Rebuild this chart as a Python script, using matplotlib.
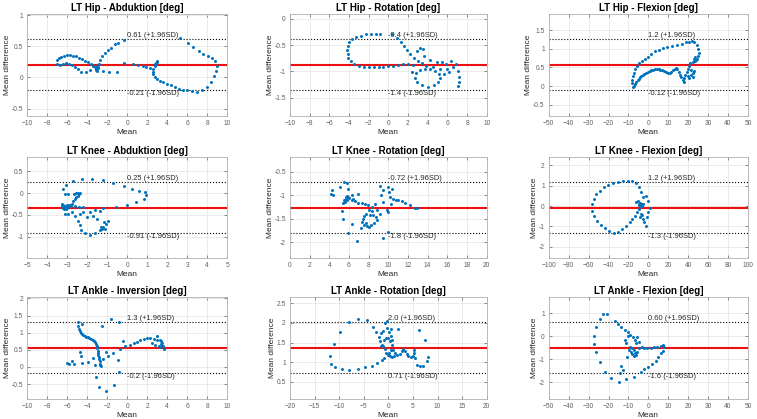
import matplotlib
matplotlib.use("Agg")
import matplotlib.pyplot as plt
import numpy as np

plt.rcParams['font.family'] = ['Liberation Sans', 'DejaVu Sans']

# ---- data (Bland-Altman, 9 joints) ----
titles = ["LT Hip - Abduktion [deg]", "LT Hip - Rotation [deg]", "LT Hip - Flexion [deg]",
          "LT Knee - Abduktion [deg]", "LT Knee - Rotation [deg]", "LT Knee - Flexion [deg]",
          "LT Ankle - Inversion [deg]", "LT Ankle - Rotation [deg]", "LT Ankle - Flexion [deg]"]

mean_diff = [0.20, -0.88, 0.565, -0.33, -1.26, -0.07, 0.56, 1.365, -0.50]
loa_upper = [0.61, -0.395, 1.25, 0.25, -0.72, 1.17, 1.30, 2.015, 0.605]
loa_lower = [-0.21, -1.365, -0.12, -0.91, -1.80, -1.31, -0.19, 0.715, -1.61]
upper_labels = ["0.61 (+1.96SD)", "-0.4 (+1.96SD)", "1.2 (+1.96SD)",
                "0.25 (+1.96SD)", "-0.72 (+1.96SD)", "1.2 (+1.96SD)",
                "1.3 (+1.96SD)", "2.0 (+1.96SD)", "0.60 (+1.96SD)"]
lower_labels = ["-0.21 (-1.96SD)", "-1.4 (-1.96SD)", "-0.12 (-1.96SD)",
                "-0.91 (-1.96SD)", "-1.8 (-1.96SD)", "-1.3 (-1.96SD)",
                "-0.2 (-1.96SD)", "0.71 (-1.96SD)", "-1.6 (-1.96SD)"]

x_limits = [(-10, 10), (-10, 10), (-50, 50), (-5, 5), (0, 20), (-100, 100),
            (-10, 10), (-20, 20), (-50, 50)]
x_steps = [2, 2, 10, 1, 2, 20, 2, 5, 10]
y_steps = [0.5, 0.5, 0.5, 0.5, 0.5, 1, 0.5, 0.5, 1]

hip_abd_x = [-7.0, -6.85, -6.6, -6.3, -6.0, -5.7, -5.4, -5.1, -4.8, -4.5, -4.2, -3.9, -3.6, -3.4,
             -3.2, -3.1, -3.0, -2.95, -3.05, -2.9, -3.1, -3.0,
             -7.05, -6.7, -6.4, -6.1, -5.8, -5.5, -5.2, -4.95, -4.6, -4.1, -3.7,
             -2.85, -2.7, -2.5, -2.2, -1.9, -1.6, -1.2, -0.9, -0.3,
             -2.4, -1.85, -1.05, -0.3, 0.6, 1.1, 1.55, 1.9, 2.25,
             2.75, 2.85, 2.95, 3.0, 2.9, 2.8,
             2.6, 2.55, 2.62, 2.75, 3.0, 3.3, 3.6, 4.0, 4.4, 4.8, 5.2, 5.6, 6.0, 6.5, 7.0, 7.5,
             8.0, 8.35, 8.65, 8.9, 9.0, 8.8, 8.45, 8.05, 7.6, 7.15, 6.6, 6.1, 5.3]
hip_abd_y = [0.28, 0.31, 0.33, 0.35, 0.36, 0.36, 0.35, 0.34, 0.32, 0.30, 0.27, 0.25, 0.22, 0.19,
             0.17, 0.14, 0.13, 0.15, 0.18, 0.17, 0.12, 0.11,
             0.21, 0.20, 0.22, 0.23, 0.22, 0.20, 0.17, 0.13, 0.09, 0.09, 0.12,
             0.22, 0.28, 0.34, 0.40, 0.44, 0.48, 0.53, 0.55, 0.60,
             0.10, 0.08, 0.09, 0.23, 0.21, 0.20, 0.18, 0.16, 0.15,
             0.21, 0.23, 0.25, 0.26, 0.22, 0.19,
             0.14, 0.09, 0.05, 0.01, -0.03, -0.05, -0.08, -0.10, -0.12, -0.15, -0.18, -0.20, -0.21,
             -0.22, -0.23, -0.21,
             -0.15, -0.07, 0.02, 0.10, 0.18, 0.27, 0.32, 0.35, 0.38, 0.43, 0.49, 0.56, 0.63]

hip_rot_x = [-0.8, -1.3, -1.8, -2.3, -2.8, -3.3, -3.7, -4.0, -4.15, -4.2, -4.15, -4.05, -3.8, -3.45,
             -3.0, -2.5, -2.0, -1.5, -1.0, -0.5, 0.0, 0.5, 1.0, 1.5, 2.0,
             0.4, 0.9, 1.3, 1.6, 1.9, 2.2, 2.6, 3.0, 3.4, 3.8, 4.2,
             4.7, 5.1, 5.2, 5.0, 4.6, 4.0, 3.4, 2.9, 2.7, 2.8, 3.2, 3.7,
             3.2, 3.5, 2.9, 3.6, 4.2, 4.9, 5.5, 5.9, 6.4, 6.55, 6.2, 5.7, 6.9, 7.05, 7.15, 7.17, 7.1,
             2.4, 2.5, 4.5, 5.3, 6.0]
hip_rot_y = [-0.30, -0.29, -0.29, -0.30, -0.32, -0.35, -0.39, -0.45, -0.52, -0.60, -0.68, -0.75, -0.81,
             -0.86, -0.89, -0.91, -0.92, -0.92, -0.92, -0.91, -0.90, -0.89, -0.88, -0.87, -0.87,
             -0.30, -0.36, -0.44, -0.52, -0.60, -0.68, -0.74, -0.80, -0.85, -0.90, -0.95,
             -0.99, -1.06, -1.13, -1.20, -1.26, -1.29, -1.27, -1.21, -1.12, -1.04, -0.98, -0.95,
             -0.55, -0.58, -0.62, -0.70, -0.79, -0.83, -0.82, -0.87, -0.80, -0.92, -1.02, -1.05, -0.86,
             -0.99, -1.10, -1.20, -1.28,
             -1.02, -0.88, -0.92, -0.95, -0.95]

hip_flex_x = [-7.8, -7.3, -6.6, -6.0, -5.4, -4.8, -4.2, -3.5, -2.8, -2.0, -1.2, -0.3, 0.6, 1.5, 2.4,
              3.3, 4.2, 5.1, 6.0, 7.0, 8.0, 9.0, 10.0, 10.8, 11.6, 12.4, 13.2, 14.0, 14.6, 15.2, 15.8,
              16.5, 17.2, 17.9, 18.6, 19.2, 19.8, 20.4, 21.0,
              -8.1, -8.1, -7.8, -7.3, -6.5, -5.5, -4.5, -3.4, -1.9, -0.3, 1.4, 3.1, 5.2, 7.3, 9.6,
              12.0, 14.5, 16.8, 18.8, 20.4, 21.8, 23.0, 24.2, 25.0, 25.3, 25.0, 24.4, 23.6, 23.0,
              23.4, 24.0, 22.6,
              20.5, 21.2, 22.3, 23.0, 22.4, 21.6, 18.0, 20.0]
hip_flex_y = [-0.03, 0.01, 0.06, 0.10, 0.15, 0.20, 0.24, 0.27, 0.30, 0.33, 0.36, 0.39, 0.41, 0.43, 0.44,
              0.45, 0.45, 0.45, 0.44, 0.42, 0.40, 0.38, 0.36, 0.36, 0.38, 0.42, 0.47, 0.49, 0.46, 0.38,
              0.30, 0.23, 0.17, 0.21, 0.29, 0.38, 0.47, 0.55, 0.63,
              0.07, 0.16, 0.26, 0.36, 0.46, 0.55, 0.61, 0.66, 0.72, 0.79, 0.86, 0.93, 0.98, 1.02, 1.05,
              1.08, 1.11, 1.14, 1.17, 1.19, 1.20, 1.17, 1.10, 1.00, 0.90, 0.80, 0.72, 0.66, 0.72,
              0.78, 0.70, 0.64,
              0.22, 0.30, 0.35, 0.40, 0.25, 0.43, 0.12, 0.28]

knee_abd_x = [-3.25, -3.2, -3.15, -3.1, -3.05, -3.0, -2.95, -3.1, -3.2, -3.0, -2.9, -3.15, -3.05, -3.25,
              -2.85, -2.78, -2.7, -2.62, -2.54, -2.46, -2.4, -2.38, -2.45, -2.55, -2.65, -2.8, -2.6,
              -2.4, -2.2,
              -3.2, -3.1, -2.95, -3.05, -2.7, -2.27, -1.77, -1.2, -0.7, -0.18, 0.23, 0.57, 0.9, 0.96,
              0.82, 0.42, -0.02, -0.55,
              -2.78, -2.62, -2.46, -2.38, -2.3, -2.12, -1.88, -1.6, -1.35, -1.2, -1.06, -0.98, -1.18,
              -1.32, -1.52, -1.7, -1.86, -2.02, -2.2, -2.36, -1.35, -1.2, -1.6, -3.1, -2.94, -1.1, -1.25]
knee_abd_y = [-0.24, -0.28, -0.31, -0.34, -0.36, -0.33, -0.30, -0.29, -0.33, -0.27, -0.28, -0.37, -0.31,
              -0.30,
              -0.28, -0.24, -0.19, -0.14, -0.10, -0.06, -0.02, 0.01, 0.0, 0.0, -0.01, -0.30, -0.30,
              -0.31, -0.31,
              0.10, -0.02, -0.02, 0.19, 0.29, 0.33, 0.33, 0.31, 0.24, 0.16, 0.10, 0.06, 0.02, -0.04,
              -0.13, -0.21, -0.27, -0.32,
              -0.44, -0.53, -0.63, -0.74, -0.84, -0.92, -0.96, -0.92, -0.85, -0.78, -0.71, -0.63, -0.67,
              -0.78, -0.59, -0.52, -0.44, -0.55, -0.44, -0.49, -0.40, -0.35, -0.38, -0.48, -0.47, -0.82,
              -0.82]

knee_rot_x = [4.24, 4.14, 4.4, 5.08, 5.5, 5.83, 5.93, 6.27,
              5.6, 5.5, 5.7, 5.83, 6.03, 6.27, 6.6, 6.95, 7.3, 7.63, 7.97, 5.76, 5.65, 5.9,
              5.36, 5.25, 5.42, 5.93, 6.27, 6.78, 6.95, 6.44,
              7.39, 7.53, 7.73, 7.29, 7.53, 7.86, 8.2, 8.54, 8.88, 8.75, 8.47, 8.14, 7.19, 8.3, 8.0,
              7.7, 8.0,
              8.64, 8.88, 9.15, 9.5, 9.3, 9.5, 9.83, 10.0, 10.07, 10.17, 10.27, 10.0, 10.34, 10.5, 10.8,
              11.0, 11.36, 11.7, 12.2, 12.7, 12.9, 10.0, 9.5, 8.3, 9.2]
knee_rot_y = [-0.88, -0.98, -1.0, -0.83, -0.72, -0.73, -0.86, -0.99,
              -1.14, -1.09, -1.04, -1.02, -1.05, -1.09, -1.13, -1.16, -1.17, -1.19, -1.20, -1.10, -1.07,
              -1.03,
              -1.16, -1.33, -1.50, -1.80, -1.62, -1.97, -0.98, -1.07,
              -1.50, -1.45, -1.39, -1.57, -1.64, -1.66, -1.64, -1.59, -1.53, -1.46, -1.43, -1.43, -1.69,
              -1.33, -1.31, -1.60, -1.67,
              -1.18, -1.32, -0.80, -0.88, -1.00, -1.14, -1.32, -1.36, -0.93, -1.04, -1.18, -0.83, -0.86,
              -1.07, -1.09, -1.11, -1.13, -1.16, -1.21, -1.26, -1.28, -1.78, -1.92, -1.24, -1.40]

knee_flex_x = [-56.4, -55.0, -52.4, -49.0, -45.0, -40.7, -35.7, -30.7, -25.6, -20.6, -16.2, -12.9, -9.5,
               -7.2, -5.5, -2.2, -0.5, 1.2, -0.5,
               -56.4, -54.8, -51.8, -48.0, -44.0, -39.7, -35.0, -30.7, -26.3, -22.3, -18.9, -16.2, -13.9,
               -11.6, -9.5,
               -9.0, -8.0, -7.0, -6.0, -8.5, -7.5, -6.5, -9.5, -5.5, -8.0, -12.2, -10.5,
               -7.2, -5.5, -3.9, -2.8, -8.9, -6.5, -1.5]
knee_flex_y = [0.10, 0.34, 0.59, 0.75, 0.92, 1.05, 1.13, 1.20, 1.23, 1.25, 1.21, 1.11, 0.92,
               0.67, 0.43, 0.51, 0.26, -0.07, -0.31,
               -0.23, -0.48, -0.72, -0.92, -1.08, -1.21, -1.30, -1.26, -1.13, -0.97, -0.80, -0.64, -0.48,
               -0.31, -0.15,
               0.10, 0.08, 0.05, 0.10, 0.0, -0.02, 0.02, 0.05, 0.08, 0.14, 0.18, 0.25,
               -0.39, -0.64, -0.80, -0.97, -0.56, -0.45, -0.55]

ankle_inv_x = [-4.95, -4.9, -4.8, -4.6, -4.4, -4.1, -3.8, -3.45, -3.2, -3.04, -2.94, -2.88, -2.8, -2.7,
               -2.64, -4.75, -4.5, -4.25, -3.95, -3.6, -3.3, -3.1, -2.98, -2.91, -2.84, -2.75, -2.67,
               -4.55, -4.7, -4.6, -4.55, -5.55, -6.05, -5.8, -5.3, -3.9, -3.4, -3.2, -3.15, -2.78, -2.1,
               -1.3, -0.77, -0.87, -1.37, -1.87, -2.1, -2.37, -2.54, -1.6, -0.8,
               -0.7, -0.43, -0.17, 0.3, 0.64, 0.97, 1.3, 1.64, 1.97, 2.3, 2.64, 2.98, 3.3, 3.48, 3.58,
               3.65, 2.47, 2.8, 3.14, 3.3, 3.4, 3.35, 3.45, 2.98]
ankle_inv_y = [1.30, 1.20, 1.10, 1.00, 0.92, 0.87, 0.84, 0.80, 0.72, 0.60, 0.48, 0.35, 0.22, 0.10,
               0.02, 1.05, 0.96, 0.89, 0.86, 0.82, 0.76, 0.66, 0.54, 0.42, 0.28, 0.16, 0.06,
               1.25, 0.45, 0.32, 0.12, 0.17, 0.12, 0.08, 0.08, 0.15, 0.25, 0.05, -0.28, -0.58, -0.70,
               -0.52, -0.15, 0.20, 0.40, 0.32, 0.45, 0.22, 1.20, 1.40, 1.30,
               0.52, 0.77, 0.60, 0.65, 0.70, 0.74, 0.78, 0.81, 0.84, 0.85, 0.83, 0.80, 0.78, 0.70, 0.60,
               0.53, 0.70, 0.65, 0.62, 0.58, 0.75, 0.68, 0.62, 0.90]

ankle_rot_x = [-11.9, -11.7, -10.85, -9.5, -7.9, -6.2, -4.75, -3.4, -2.24, -1.36, -0.8,
               -11.05, -9.8, -7.9, -6.1, -4.4, -3.2, -2.5, -2.0, -1.56, -1.15, -1.7, -1.36, -1.56,
               -0.68, -0.34, -0.2, 0.2, 0.47, 0.68, 0.75, 0.54, 0.2, -0.14, -0.47, -0.68, -1.0, -0.8,
               -0.47, 0.0, 0.34, 1.0, 1.36, 1.83, 2.37, 2.78, 3.05, 3.4, 3.73, 4.07, 4.54, 4.95, 5.22,
               5.22, 5.42, 5.76, 6.44, 7.1, 7.8, 8.14, 7.46, 6.3, 2.03, 0.47, 0.34, 0.68, 1.15]
ankle_rot_y = [1.16, 0.95, 0.86, 0.83, 0.80, 0.83, 0.86, 0.90, 0.97, 1.04, 1.10,
               1.46, 1.77, 2.02, 2.10, 2.07, 1.90, 1.76, 1.64, 1.74, 1.80, 1.53, 1.44, 1.40,
               2.00, 2.04, 1.87, 1.78, 1.66, 1.57, 1.44, 1.31, 1.23, 1.19, 1.23, 1.33, 1.42, 1.57,
               1.61, 1.61, 1.53, 1.31, 1.23, 1.19, 1.21, 1.27, 1.34, 1.29, 1.21, 1.16, 1.14, 1.16, 1.23,
               1.31, 1.10, 0.93, 0.89, 0.91, 1.02, 1.14, 1.57, 1.83, 1.85, 1.84, 1.16, 1.14, 1.16]

ankle_flex_x = [-22.9, -20.7, -24.5, -26.2, -27.4, -27.4, -26.5, -24.5, -21.9, -19.0, -14.8, -11.1,
                -16.8, -15.2, -13.5, -11.8, -10.3, -9.0, -7.8, -6.8, -6.1,
                -9.0, -8.1, -7.3, -6.8, -6.1, -7.3, -8.1, -8.5, -5.6, -4.8, -3.4, -2.3, -0.6, 1.1, 2.8,
                4.4, 6.1, 7.3, 7.8, 7.5, 6.5, 4.9, 3.6, 1.9, -0.1, -2.3, -3.9, -7.3,
                -11.5, -10.1, -11.1, -9.8, -10.6, -13.5, -12.8, -14.0, -5.6, -4.8]
ankle_flex_y = [0.97, 0.97, 0.74, 0.39, 0.03, -0.34, -0.70, -1.11, -1.54, -1.83, -1.97, -1.87,
                0.68, 0.53, 0.39, 0.27, 0.17, 0.05, -0.05, -0.16, -0.31,
                -0.45, -0.52, -0.60, -0.71, -0.81, -0.86, -0.77, -0.67, -0.67, -0.52, -0.45, -0.52,
                -0.52, -0.50, -0.48, -0.48, -0.42, -0.38, -0.48, -0.63, -0.74, -0.92, -1.06, -1.21,
                -1.32, -1.44, -1.54, -1.76,
                -0.16, 0.01, -0.31, -0.60, -0.89, -1.29, -1.47, -1.58, -0.02, -0.24]

points_x = [hip_abd_x, hip_rot_x, hip_flex_x, knee_abd_x, knee_rot_x, knee_flex_x,
            ankle_inv_x, ankle_rot_x, ankle_flex_x]
points_y = [hip_abd_y, hip_rot_y, hip_flex_y, knee_abd_y, knee_rot_y, knee_flex_y,
            ankle_inv_y, ankle_rot_y, ankle_flex_y]

# ---- layout (figure fractions) ----
col_left = [0.036, 0.383, 0.725]
col_width = [0.264, 0.260, 0.263]
row_bottom = [0.7232, 0.3842, 0.0489]
row_height = [0.2434, 0.2411, 0.2422]

fig = plt.figure(figsize=(7.57, 4.19), dpi=100)

for i in range(9):
    r, c = divmod(i, 3)
    ax = fig.add_axes([col_left[c], row_bottom[r], col_width[c], row_height[r]])

    ax.plot(points_x[i], points_y[i], '.', color='#0072BD', markersize=2.3, zorder=3)

    ax.axhline(mean_diff[i], color='#ee1111', linewidth=1.5, zorder=2)
    ax.axhline(loa_upper[i], color='black', linestyle=':', linewidth=0.8, zorder=2)
    ax.axhline(loa_lower[i], color='black', linestyle=':', linewidth=0.8, zorder=2)

    x0, x1 = x_limits[i]
    xm = (x0 + x1) / 2
    ax.text(xm, loa_upper[i], upper_labels[i], fontsize=5.4, ha='left', va='bottom', color='#262626')
    ax.text(xm, loa_lower[i], lower_labels[i], fontsize=5.4, ha='left', va='top', color='#262626')

    half = 2 * (loa_upper[i] - mean_diff[i])
    ax.set_xlim(x0, x1)
    ax.set_ylim(mean_diff[i] - half, mean_diff[i] + half)
    ax.set_xticks(np.arange(x0, x1 + x_steps[i] / 2, x_steps[i]))
    yt0 = np.ceil((mean_diff[i] - half) / y_steps[i]) * y_steps[i]
    ax.set_yticks(np.arange(yt0, mean_diff[i] + half, y_steps[i]))
    ax.yaxis.set_major_formatter(matplotlib.ticker.FormatStrFormatter('%g'))

    ax.set_title(titles[i], fontsize=7, fontweight='bold', pad=2.5)
    ax.set_xlabel("Mean", fontsize=6, labelpad=1.5, color='#262626')
    ax.set_ylabel("Mean difference", fontsize=6, labelpad=0.5, color='#262626')

    ax.grid(True, color='#e3e3e3', linewidth=0.5)
    ax.set_axisbelow(True)
    ax.tick_params(direction='in', length=2, width=0.5, labelsize=4.8, pad=3,
                   colors='#606060', top=True, right=True)
    for s in ax.spines.values():
        s.set_color('#b0b0b0')
        s.set_linewidth(0.6)

fig.savefig("out.png", dpi=100)
